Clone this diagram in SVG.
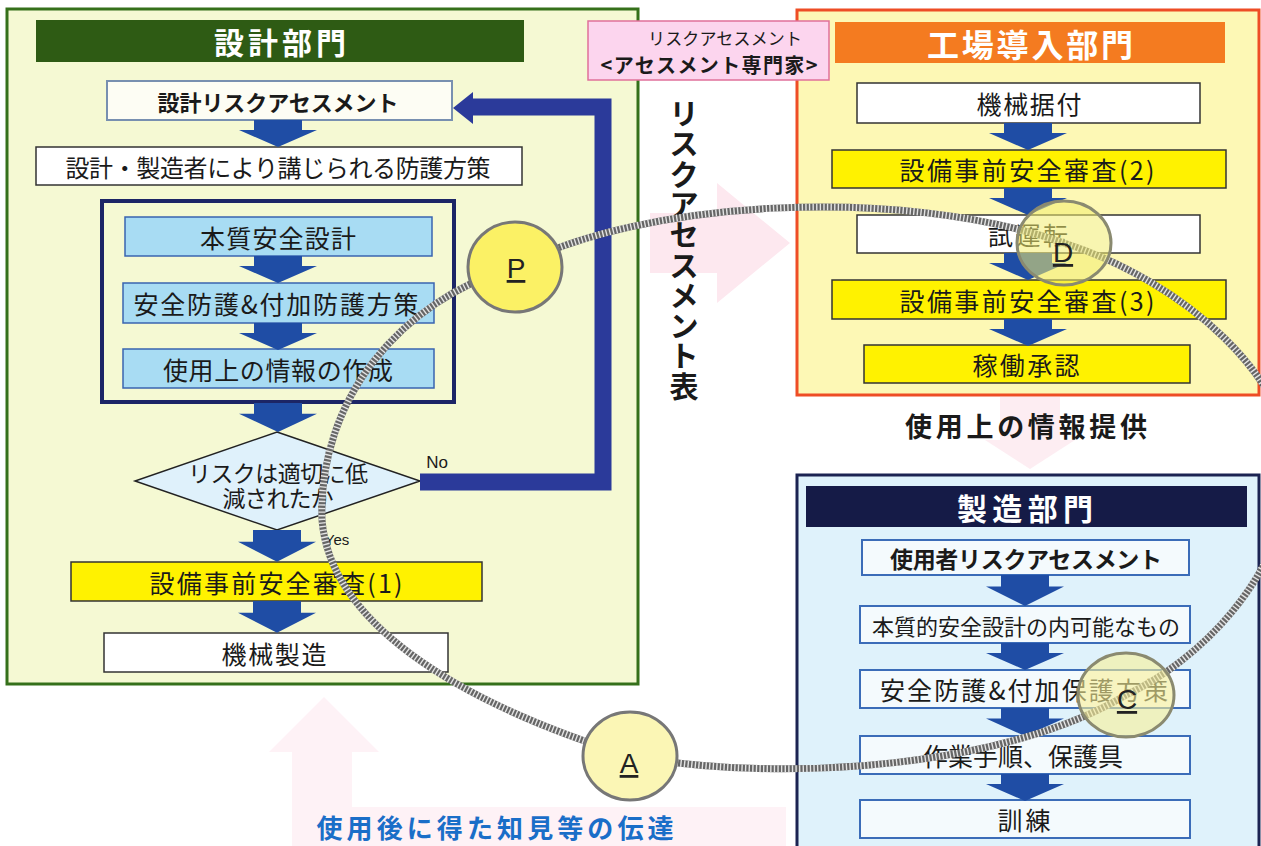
<svg xmlns="http://www.w3.org/2000/svg" xmlns:xlink="http://www.w3.org/1999/xlink" width="1261" height="846" viewBox="0 0 1261 846">
<defs>
<style>
text{font-family:"Noto Sans CJK JP","Noto Sans",sans-serif;text-anchor:middle;dominant-baseline:central;fill:#1a1a1a}
.b{font-weight:bold}
.hd{font-weight:bold;fill:#fff}
.t25{font-size:25px}
.box{stroke:#333;stroke-width:1.5}
.wh{fill:#fff}
.ye{fill:#fff200}
.lb{fill:#a8dcf3;stroke:#3a64b0;stroke-width:1.5}
.bb{fill:#f4fafd;stroke:#3b6cb8;stroke-width:2}
.pink{fill:#fde8ef}
.arr{fill:#1f4da5}
.rope{fill:none;stroke:#666;stroke-width:7}
.ropeh{fill:none;stroke:#e4e4e4;stroke-width:7;stroke-dasharray:1.4 2.2}
.ltr{font-family:"Liberation Sans",Arial,sans-serif;font-size:28px;text-decoration:underline;dominant-baseline:alphabetic;fill:#222}
.lat{font-family:"Liberation Sans",Arial,sans-serif}
</style>
<path id="arr" d="M-24 0 H24 V10 H39 L0 27 L-39 10 H-24 Z"/>
</defs>

<!-- faint pink background arrows -->
<g id="bg-arrows">
<path class="pink" d="M650 213 H717 V183 L790 243 L717 303 V273 H650 Z"/>
<path class="pink" d="M1000 397 H1060 V440 H1075 L1030 469 L985 440 H1000 Z" opacity="0.8"/>
<path class="pink" d="M324 697 L379 752 H352 V807 H786 V846 H292 V752 H269 Z" opacity="0.55"/>
</g>

<!-- Design department -->
<g id="design-dept">
<rect x="7" y="9" width="631" height="675" fill="#f5f9d3" stroke="#35701a" stroke-width="3"/>
<rect x="36" y="20" width="488" height="42" fill="#2e5b14"/>
<text class="hd" x="280" y="41" font-size="30" textLength="132">設計部門</text>
</g>
<g id="design-ra">
<rect x="107" y="81" width="345" height="39" fill="#fdfdf4" stroke="#7890b0" stroke-width="2"/>
<text class="b" x="278" y="100.5" font-size="22" textLength="241">設計リスクアセスメント</text>
</g>
<g id="design-measures">
<rect class="box wh" x="36" y="147" width="486" height="38"/>
<text x="278" y="166" font-size="24" textLength="425">設計・製造者により講じられる防護方策</text>
</g>
<g id="inner-group">
<rect x="102" y="201" width="352" height="201" fill="none" stroke="#1c2566" stroke-width="4"/>
</g>
<g id="inherent-design">
<rect class="lb" x="125" y="217" width="307" height="39"/>
<text class="t25" x="278" y="236.5" textLength="156">本質安全設計</text>
</g>
<g id="safeguard">
<rect class="lb" x="123" y="283" width="311" height="40"/>
<text class="t25" x="276" y="303" textLength="285">安全防護&amp;付加防護方策</text>
</g>
<g id="info-for-use">
<rect class="lb" x="123" y="349" width="311" height="39"/>
<text class="t25" x="278" y="368.5" textLength="230">使用上の情報の作成</text>
</g>
<g id="decision">
<polygon points="277,432 420,481 277,530 135,481" fill="#dff1fb" stroke="#222" stroke-width="1.5"/>
<text x="278" y="472" font-size="23" textLength="180">リスクは適切に低</text>
<text x="278" y="497" font-size="23" textLength="111">減されたか</text>
</g>
<g id="review1">
<rect class="box ye" x="71" y="562" width="411" height="39"/>
<text class="t25" x="276" y="581.5" textLength="253">設備事前安全審査(1)</text>
</g>
<g id="manufacture">
<rect class="box wh" x="104" y="633" width="344" height="39"/>
<text class="t25" x="274" y="652.5" textLength="105">機械製造</text>
</g>

<!-- Factory introduction department -->
<g id="factory-dept">
<rect x="797" y="10" width="462" height="385" fill="#fdf8b5" stroke="#ee4d25" stroke-width="3"/>
<rect x="835" y="22" width="390" height="41" fill="#f47b20"/>
<text class="hd" x="1030" y="43" font-size="32" textLength="206">工場導入部門</text>
</g>
<g id="install">
<rect class="box wh" x="857" y="83" width="343" height="40"/>
<text class="t25" x="1029" y="103" textLength="105">機械据付</text>
</g>
<g id="review2">
<rect class="box ye" x="832" y="150" width="394" height="38"/>
<text class="t25" x="1027" y="169" textLength="255">設備事前安全審査(2)</text>
</g>
<g id="trial">
<rect class="box wh" x="857" y="215" width="343" height="38"/>
<text class="t25" x="1028" y="234" textLength="80">試運転</text>
</g>
<g id="review3">
<rect class="box ye" x="832" y="280" width="394" height="39"/>
<text class="t25" x="1027" y="299.5" textLength="255">設備事前安全審査(3)</text>
</g>
<g id="approval">
<rect class="box ye" x="864" y="345" width="326" height="38"/>
<text class="t25" x="1026" y="364" textLength="107">稼働承認</text>
</g>
<g id="info-provision">
<text class="b" x="1026" y="425" font-size="27" textLength="242">使用上の情報提供</text>
</g>

<!-- middle -->
<g id="expert">
<rect x="588" y="21" width="241" height="59" fill="#fcd5ee" stroke="#e0709a" stroke-width="1.5"/>
<text x="725" y="37" font-size="17" textLength="154">リスクアセスメント</text>
<text class="b" x="709" y="64" font-size="20" textLength="217">&lt;アセスメント専門家&gt;</text>
</g>
<g id="ra-sheet">
<text class="b" font-size="29">
<tspan x="684" y="112">リ</tspan><tspan x="684" y="142.3">ス</tspan><tspan x="684" y="172.6">ク</tspan><tspan x="684" y="202.9">ア</tspan><tspan x="684" y="233.2">セ</tspan><tspan x="684" y="263.5">ス</tspan><tspan x="684" y="293.8">メ</tspan><tspan x="684" y="324.1">ン</tspan><tspan x="684" y="354.4">ト</tspan><tspan x="684" y="384.7">表</tspan>
</text>
</g>

<!-- Manufacturing department -->
<g id="mfg-dept">
<rect x="797" y="475" width="462" height="385" fill="#dff2fb" stroke="#1b2352" stroke-width="3"/>
<rect x="806" y="486" width="441" height="41" fill="#151b47"/>
<text class="hd" x="1025" y="507" font-size="30" textLength="136">製造部門</text>
</g>
<g id="user-ra">
<rect class="bb" x="862" y="540" width="327" height="35"/>
<text class="b" x="1026" y="557.5" font-size="23" textLength="272">使用者リスクアセスメント</text>
</g>
<g id="user-inherent">
<rect class="bb" x="860" y="606" width="330" height="37"/>
<text x="1026" y="624.5" font-size="22" textLength="308">本質的安全設計の内可能なもの</text>
</g>
<g id="user-safeguard">
<rect class="bb" x="860" y="670" width="330" height="38"/>
<text class="t25" x="1024" y="689" textLength="288">安全防護&amp;付加保護方策</text>
</g>
<g id="procedures">
<rect class="bb" x="860" y="736" width="330" height="38"/>
<text class="t25" x="1023" y="755" textLength="200">作業手順、保護具</text>
</g>
<g id="training">
<rect class="bb" x="860" y="800" width="330" height="38"/>
<text class="t25" x="1024" y="819" textLength="53">訓練</text>
</g>

<g id="feedback-label">
<text class="b" x="495" y="826" font-size="26" style="fill:#1a6ec8" textLength="357">使用後に得た知見等の伝達</text>
</g>

<!-- connectors -->
<g id="connectors">
<g class="arr">
<use xlink:href="#arr" transform="translate(278,120)"/>
<use xlink:href="#arr" transform="translate(278,256)"/>
<use xlink:href="#arr" transform="translate(278,323)"/>
<use xlink:href="#arr" transform="translate(278,403) scale(1,1.07)"/>
<use xlink:href="#arr" transform="translate(277,530) scale(1,1.18)"/>
<use xlink:href="#arr" transform="translate(277,601) scale(1,1.18)"/>
<use xlink:href="#arr" transform="translate(1028,123)"/>
<use xlink:href="#arr" transform="translate(1028,188)"/>
<use xlink:href="#arr" transform="translate(1028,253)"/>
<use xlink:href="#arr" transform="translate(1028,319)"/>
<use xlink:href="#arr" transform="translate(1025,575) scale(1,1.15)"/>
<use xlink:href="#arr" transform="translate(1025,643)"/>
<use xlink:href="#arr" transform="translate(1025,708) scale(1,1.04)"/>
<use xlink:href="#arr" transform="translate(1025,774)"/>
</g>
<path d="M420 482 H603 V107 H470" fill="none" stroke="#2b3a9a" stroke-width="17"/>
<polygon points="453,108 473,92 473,124" fill="#2b3a9a"/>
<text class="lat" x="437" y="462" font-size="17">No</text>
<text class="lat" x="337" y="539" font-size="15">Yes</text>
<path class="rope" d="M515 267 C640 200 900 185 1064 243 C1180 280 1300 380 1290 480 C1280 580 1200 660 1126 695 C1010 765 790 785 630 756 C450 700 330 620 322 520 C318 400 400 300 515 267 Z"/>
<path class="ropeh" d="M515 267 C640 200 900 185 1064 243 C1180 280 1300 380 1290 480 C1280 580 1200 660 1126 695 C1010 765 790 785 630 756 C450 700 330 620 322 520 C318 400 400 300 515 267 Z"/>
</g>

<!-- PDCA nodes -->
<g id="node-P">
<ellipse cx="515" cy="267" rx="47" ry="45" fill="#fbf165" stroke="#777" stroke-width="3"/>
<text class="ltr" x="516" y="278">P</text>
</g>
<g id="node-D">
<ellipse cx="1064" cy="243" rx="47" ry="42" fill="#f3ec70" fill-opacity="0.55" stroke="#8a8a70" stroke-width="3"/>
<text class="ltr" x="1063" y="262">D</text>
</g>
<g id="node-C">
<ellipse cx="1126" cy="695" rx="48" ry="42" fill="#f8f098" fill-opacity="0.6" stroke="#8a8a70" stroke-width="3"/>
<text class="ltr" x="1127" y="709">C</text>
</g>
<g id="node-A">
<ellipse cx="630" cy="756" rx="47" ry="44" fill="#fbf6b5" stroke="#777" stroke-width="3"/>
<text class="ltr" x="629" y="773">A</text>
</g>
</svg>
